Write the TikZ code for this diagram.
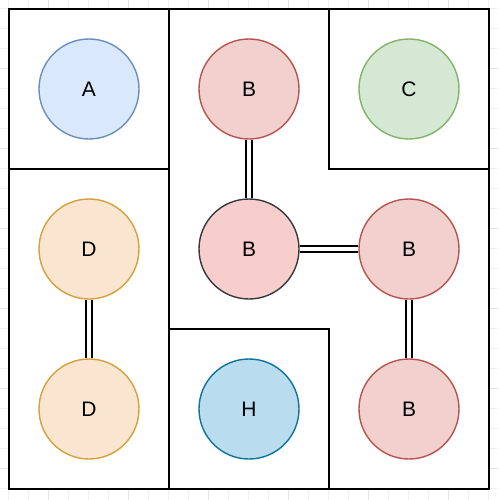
\documentclass[tikz,border=0pt]{standalone}
\usepackage{fontspec}
\setmainfont{Liberation Sans}
\begin{document}
\begin{tikzpicture}[x=1pt,y=-1pt,
  wall/.style={line width=2pt, line cap=rect},
  disc/.style={circle, minimum size=100pt, inner sep=0pt, line width=1.4pt,
    font=\fontsize{21}{25}\selectfont},
  dbl/.style={line width=2pt, double, double distance=4.5pt, draw=black},
  gridminor/.style={draw=black!6, line width=0.8pt},
  gridmajor/.style={draw=black!11, line width=0.8pt}]
\definecolor{blueF}{HTML}{DAE8FC}\definecolor{blueS}{HTML}{6C8EBF}
\definecolor{redF}{HTML}{F2D0CE}\definecolor{redS}{HTML}{B85450}
\definecolor{redC}{HTML}{F8CECC}\definecolor{darkS}{HTML}{36393D}
\definecolor{greenF}{HTML}{D5E8D4}\definecolor{greenS}{HTML}{82B366}
\definecolor{orangeF}{HTML}{FAE6D0}\definecolor{orangeS}{HTML}{D6A03A}
\definecolor{hF}{HTML}{B9DCEF}\definecolor{hS}{HTML}{10739E}
\useasboundingbox (0,0) rectangle (498,500);
\fill[white] (0,0) rectangle (498,500);
% background grid
\foreach \k in {0,...,25}{
  \draw[gridminor] (8+20*\k,0) -- (8+20*\k,500);
  \draw[gridminor] (0,8+20*\k) -- (498,8+20*\k);
}
\foreach \k in {0,...,6}{
  \draw[gridmajor] (48+80*\k,0) -- (48+80*\k,500);
  \draw[gridmajor] (0,68+80*\k) -- (498,68+80*\k);
}
% floor area
\fill[white] (9,9) rectangle (489,489);
% walls
\draw[wall] (9,9) rectangle (489,489);
\draw[wall] (169,9) -- (169,489);
\draw[wall] (9,169) -- (169,169);
\draw[wall] (329,9) -- (329,169) -- (489,169);
\draw[wall] (169,329) -- (329,329) -- (329,489);
% rooms
\node[disc, fill=blueF, draw=blueS]     (a)  at (89,89)   {A};
\node[disc, fill=redF, draw=redS]       (b1) at (249,89)  {B};
\node[disc, fill=greenF, draw=greenS]   (c)  at (409,89)  {C};
\node[disc, fill=orangeF, draw=orangeS] (d1) at (89,249)  {D};
\node[disc, fill=redC, draw=darkS]      (b0) at (249,249) {B};
\node[disc, fill=redF, draw=redS]       (b2) at (409,249) {B};
\node[disc, fill=orangeF, draw=orangeS] (d2) at (89,409)  {D};
\node[disc, fill=hF, draw=hS]           (h)  at (249,409) {H};
\node[disc, fill=redF, draw=redS]       (b3) at (409,409) {B};
% links
\draw[dbl] (b1) -- (b0);
\draw[dbl] (b0) -- (b2);
\draw[dbl] (b2) -- (b3);
\draw[dbl] (d1) -- (d2);
\end{tikzpicture}
\end{document}
